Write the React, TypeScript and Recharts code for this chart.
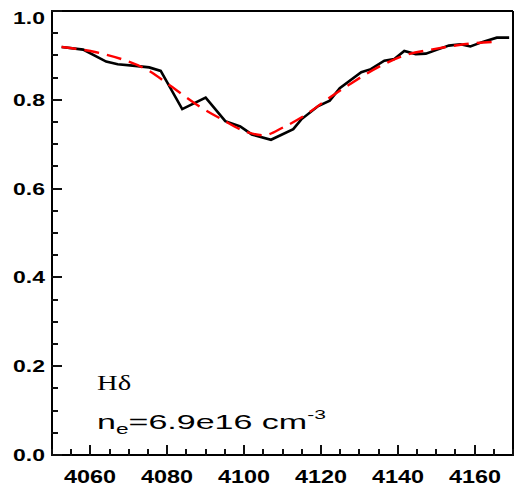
import React from 'react';
import { LineChart, Line, XAxis, YAxis } from 'recharts';

// Observed H-delta profile (black solid)
const obsWave = [4052.5, 4058.1, 4064.1, 4067.1, 4071.0, 4075.3, 4078.3, 4083.9, 4090.0, 4095.1, 4099.0, 4102.0, 4107.0, 4112.8, 4114.9, 4119.3, 4122.3, 4124.9, 4130.5, 4133.0, 4136.5, 4139.1, 4141.7, 4144.7, 4147.3, 4150.3, 4153.3, 4156.3, 4158.9, 4162.3, 4165.8, 4169.0];
const obsFlux = [0.919, 0.913, 0.886, 0.880, 0.877, 0.873, 0.865, 0.779, 0.805, 0.752, 0.740, 0.722, 0.710, 0.734, 0.756, 0.786, 0.798, 0.826, 0.862, 0.869, 0.888, 0.892, 0.910, 0.903, 0.904, 0.913, 0.922, 0.925, 0.920, 0.931, 0.940, 0.940];

// Model fit (red dashed)
const fitWave = [4052.5, 4061.5, 4069.3, 4075.3, 4080.9, 4088.2, 4094.2, 4101.2, 4105.0, 4110.2, 4114.9, 4122.3, 4127.5, 4134.8, 4141.7, 4149.4, 4157.2, 4165.8];
const fitFlux = [0.919, 0.907, 0.888, 0.865, 0.831, 0.786, 0.756, 0.726, 0.720, 0.738, 0.760, 0.805, 0.835, 0.873, 0.900, 0.914, 0.925, 0.931];

const xTicks = [4050, 4055, 4060, 4065, 4070, 4075, 4080, 4085, 4090, 4095, 4100, 4105, 4110, 4115, 4120, 4125, 4130, 4135, 4140, 4145, 4150, 4155, 4160, 4165, 4170];
const xLabelTicks = [4060, 4080, 4100, 4120, 4140, 4160];
const yTicks = [0, 0.05, 0.1, 0.15, 0.2, 0.25, 0.3, 0.35, 0.4, 0.45, 0.5, 0.55, 0.6, 0.65, 0.7, 0.75, 0.8, 0.85, 0.9, 0.95, 1.0];
const yLabelTicks = [0, 0.2, 0.4, 0.6, 0.8, 1.0];

const lineLabel = 'Hδ';
const densityMain = 'n';
const densitySub = 'e';
const densityValue = '=6.9e16 cm';
const densitySup = '-3';
const annotationAnchorTick = 4060;

const obsData = obsWave.map((x, i) => ({ x, y: obsFlux[i] }));
const fitData = fitWave.map((x, i) => ({ x, y: fitFlux[i] }));

const isYMajor = (v: number) => yLabelTicks.some((t) => Math.abs(t - v) < 1e-6);
const labelFont = '"Liberation Sans", Arial, Helvetica, sans-serif';
const OFF = 8; // tickSize 6 + tickMargin 2
const MAJOR = 10;
const MINOR = 6;
const TW = 3;
const TICK_COLOR = '#101010';

const BottomTick = (props: any) => {
  const x = Math.round(Number(props.x));
  const ay = Math.round(Number(props.y) - OFF);
  const v = props.payload.value;
  const major = xLabelTicks.includes(v);
  const len = major ? MAJOR : MINOR;
  return (
    <g>
      <rect x={x - 1} y={ay - len} width={TW - 1} height={len + 1} fill={TICK_COLOR} />
      {major && (
        <text
          transform={`translate(${x},${ay + 28}) scale(1.3,1)`}
          textAnchor="middle"
          fontFamily={labelFont}
          fontWeight="bold"
          fontSize={18}
          fill="black"
        >
          {v}
        </text>
      )}
      {v === annotationAnchorTick && (
        <g>
          <text
            transform={`translate(${x + 7},${ay - 65}) scale(1.3,1)`}
            fontFamily='"Liberation Serif", "Times New Roman", serif'
            fontSize={22}
            fill="black"
          >
            {lineLabel}
          </text>
          <text
            transform={`translate(${x + 7},${ay - 26}) scale(1.62,1)`}
            fontFamily='"Liberation Sans", Arial, sans-serif'
            fontSize={21}
            fill="black"
          >
            {densityMain}
            <tspan fontSize={14} dy={5}>{densitySub}</tspan>
            <tspan fontSize={21} dy={-5}>{densityValue}</tspan>
            <tspan fontSize={13} dy={-10}>{densitySup}</tspan>
          </text>
        </g>
      )}
    </g>
  );
};

const TopTick = (props: any) => {
  const x = Math.round(Number(props.x));
  const ay = Math.round(Number(props.y) + OFF);
  const len = xLabelTicks.includes(props.payload.value) ? MAJOR : MINOR;
  return <rect x={x - 1} y={ay - 1} width={TW - 1} height={len + 1} fill={TICK_COLOR} />;
};

const LeftTick = (props: any) => {
  const ax = Math.round(Number(props.x) + OFF);
  const yRaw = Number(props.y);
  const y = Math.round(yRaw);
  const v = props.payload.value;
  const major = isYMajor(v);
  const len = major ? MAJOR : MINOR;
  const ty = Math.max(yRaw, 18);
  return (
    <g>
      <rect x={ax - 1} y={y - 1} width={len + 1} height={TW - 1} fill={TICK_COLOR} />
      {major && (
        <text
          transform={`translate(${ax - 7},${ty + 6}) scale(1.35,1)`}
          textAnchor="end"
          fontFamily={labelFont}
          fontWeight="bold"
          fontSize={17}
          fill="black"
        >
          {v.toFixed(1)}
        </text>
      )}
    </g>
  );
};

const RightTick = (props: any) => {
  const ax = Math.round(Number(props.x) - OFF);
  const y = Math.round(Number(props.y));
  const len = isYMajor(props.payload.value) ? MAJOR : MINOR;
  return <rect x={ax - len} y={y - 1} width={len + 1} height={TW - 1} fill={TICK_COLOR} />;
};

export default function App() {
  const W = 514;
  const H = 489;
  return (
    <div style={{ position: 'absolute', left: 0, top: 0, width: W, height: H, background: '#fff' }}>
      <LineChart width={W} height={H} margin={{ top: 10, right: 0, bottom: 0, left: 0 }}>
        <XAxis
          dataKey="x"
          type="number"
          domain={[4050, 4170]}
          ticks={xTicks}
          interval={0}
          tick={<BottomTick />}
          tickLine={false}
          tickSize={6}
          tickMargin={2}
          height={34}
          axisLine={{ stroke: 'black', strokeWidth: 2 }}
        />
        <XAxis
          xAxisId="top"
          orientation="top"
          dataKey="x"
          type="number"
          domain={[4050, 4170]}
          ticks={xTicks}
          interval={0}
          tick={<TopTick />}
          tickLine={false}
          tickSize={6}
          tickMargin={2}
          height={1}
          axisLine={{ stroke: 'black', strokeWidth: 2 }}
        />
        <YAxis
          type="number"
          domain={[0, 1]}
          ticks={yTicks}
          interval={0}
          tick={<LeftTick />}
          tickLine={false}
          tickSize={6}
          tickMargin={2}
          width={52}
          axisLine={{ stroke: 'black', strokeWidth: 2 }}
        />
        <YAxis
          yAxisId="right"
          orientation="right"
          type="number"
          domain={[0, 1]}
          ticks={yTicks}
          interval={0}
          tick={<RightTick />}
          tickLine={false}
          tickSize={6}
          tickMargin={2}
          width={1}
          axisLine={{ stroke: 'black', strokeWidth: 2 }}
        />
        <Line
          data={obsData}
          dataKey="y"
          type="linear"
          stroke="#000"
          strokeWidth={2.6}
          dot={false}
          isAnimationActive={false}
        />
        <Line
          data={fitData}
          dataKey="y"
          type="monotone"
          stroke="#ff0000"
          strokeWidth={2.4}
          strokeDasharray="15 8"
          dot={false}
          isAnimationActive={false}
        />
      </LineChart>
    </div>
  );
}
